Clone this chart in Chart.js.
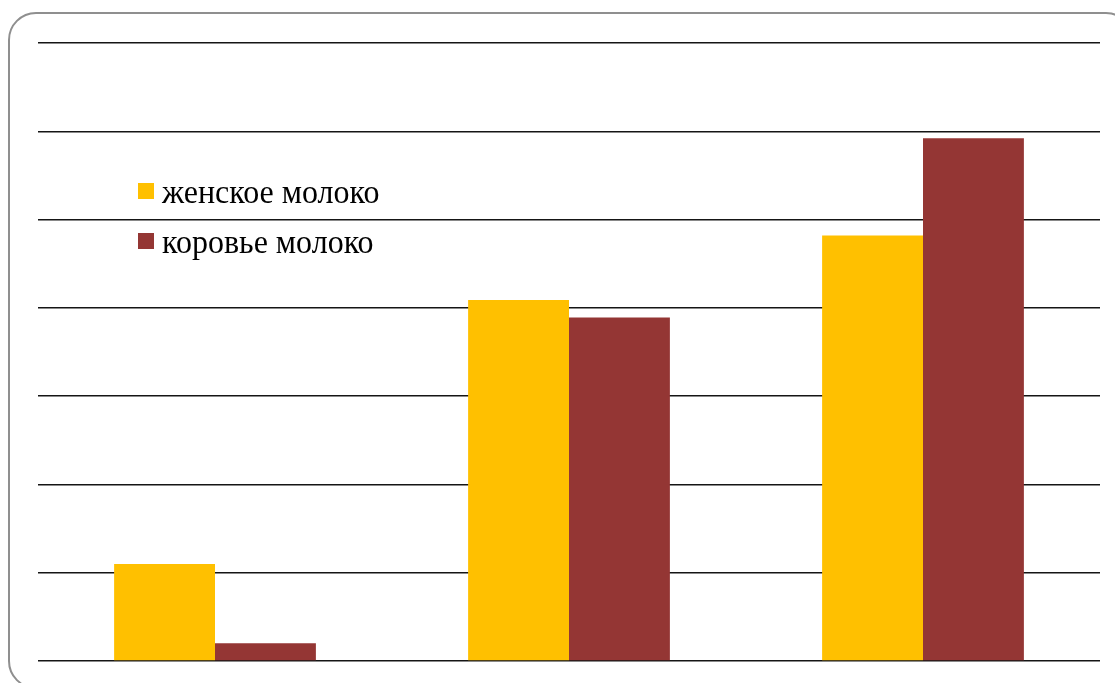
<!DOCTYPE html>
<html lang="ru">
<head>
    <meta charset="UTF-8">
    <title>Молоко</title>
    <style>
        html, body {
            margin: 0;
            padding: 0;
            width: 1115px;
            height: 683px;
            overflow: hidden;
            background: #ffffff;
        }
        .frame {
            position: absolute;
            left: 8px;
            top: 12px;
            width: 1126px;
            height: 677px;
            border: 2px solid #8f8f8f;
            border-radius: 28px;
            box-sizing: border-box;
        }
        .wrap {
            position: absolute;
            left: 0;
            top: 0;
            width: 1115px;
            height: 683px;
        }
    </style>
    <script src="https://cdn.jsdelivr.net/npm/chart.js"></script>
</head>
<body>
    <div class="frame"></div>
    <div class="wrap"><canvas id="milkChart"></canvas></div>
    <script>
        // data (grid step = 1)
        const categories = ['', '', ''];
        const seriesNames = ['женское молоко', 'коровье молоко'];
        const womenMilk = [1.1, 4.09, 4.82];
        const cowMilk = [0.2, 3.89, 5.92];
        const seriesColors = ['#FFC000', '#943634'];

        // legend drawn inside the plot, top-left
        const innerLegend = {
            id: 'innerLegend',
            afterDraw(chart) {
                const ctx = chart.ctx;
                ctx.save();
                ctx.font = '32px "Liberation Serif", "Times New Roman", serif';
                ctx.textBaseline = 'alphabetic';
                chart.data.datasets.forEach((ds, i) => {
                    const y = 183 + i * 50;
                    ctx.fillStyle = ds.backgroundColor;
                    ctx.fillRect(138, y, 16, 16);
                    ctx.fillStyle = '#000';
                    // text in the original looks a bit taller than wide
                    ctx.save();
                    ctx.translate(162, y + 20);
                    ctx.scale(1, 1.06);
                    ctx.fillText(ds.label, 0, 0);
                    ctx.restore();
                });
                ctx.restore();
            }
        };

        new Chart(document.getElementById('milkChart'), {
            type: 'bar',
            data: {
                labels: categories,
                datasets: [
                    {
                        label: seriesNames[0],
                        data: womenMilk,
                        backgroundColor: seriesColors[0]
                    },
                    {
                        label: seriesNames[1],
                        data: cowMilk,
                        backgroundColor: seriesColors[1]
                    }
                ]
            },
            options: {
                responsive: true,
                maintainAspectRatio: false,
                animation: false,
                layout: {
                    padding: { left: 38, right: 15, top: 43, bottom: 22 }
                },
                datasets: {
                    bar: { categoryPercentage: 0.57, barPercentage: 1.0 }
                },
                plugins: {
                    legend: { display: false },
                    tooltip: { enabled: false }
                },
                scales: {
                    x: {
                        ticks: { display: false },
                        grid: { display: false, drawTicks: false },
                        border: { display: false }
                    },
                    y: {
                        min: 0,
                        max: 7,
                        ticks: { display: false, stepSize: 1 },
                        grid: { color: '#151515', lineWidth: 1.5, drawTicks: false },
                        border: { display: false }
                    }
                }
            },
            plugins: [innerLegend]
        });
    </script>
</body>
</html>
